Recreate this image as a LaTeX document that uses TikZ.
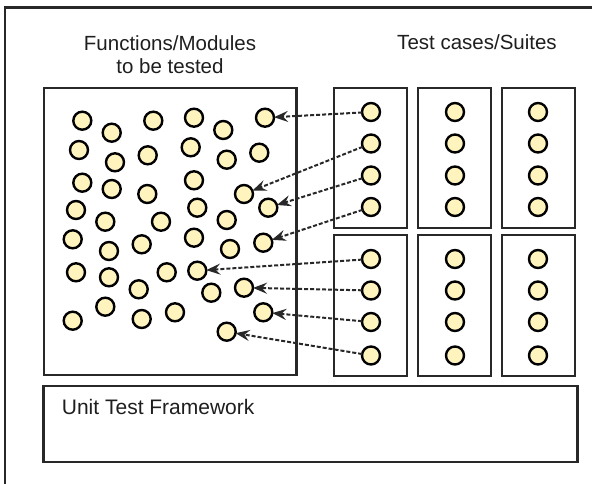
\documentclass[tikz,border=0pt]{standalone}
\usepackage{fontspec}
\setmainfont{Liberation Sans}
\usetikzlibrary{arrows.meta}
\definecolor{dotfill}{RGB}{255,244,189}
\definecolor{frame}{RGB}{40,40,40}
\definecolor{txt}{RGB}{30,30,30}
\begin{document}
\begin{tikzpicture}[x=1pt,y=-1pt,
  dot/.style={circle, draw=black, line width=2.4pt, fill=dotfill, minimum size=18pt, inner sep=0pt, outer sep=0pt},
  boxline/.style={draw=frame, line width=2.8pt, rectangle, inner sep=0pt, outer sep=0pt, anchor=north west},
  link/.style={draw=frame, line width=2pt, dash pattern=on 4pt off 2pt, -{Stealth[length=14pt,width=11pt,inset=5pt]}},
  lbl/.style={font=\fontsize{20.5}{22.7}\selectfont, text=txt, inner sep=0pt}]
\useasboundingbox (0,0) rectangle (592,484);
% outer frame (top and left edges)
\draw[frame, line width=2.2pt] (592,7.5) -- (4.6,7.5) -- (4.6,484);
% titles
\node[lbl, align=center, anchor=base] (ftitle) at (170,73.4) {Functions/Modules\\to be tested};
\node[lbl, anchor=base] (ttitle) at (477,50) {Test cases/Suites};
% function box
\node[boxline, minimum width=252.5pt, minimum height=287pt] (funcbox) at (44,88) {};
% test suite boxes
\foreach \bx [count=\col] in {334,418,502}{
  \node[boxline, minimum width=73pt, minimum height=140pt] (s\col-1) at (\bx,88) {};
  \node[boxline, minimum width=73pt, minimum height=141pt] (s\col-2) at (\bx,235) {};
}
% unit test framework
\node[boxline, minimum width=534pt, minimum height=76pt] (utf) at (43.5,386) {};
\node[lbl, font=\fontsize{21}{24}\selectfont, anchor=base west] (utflbl) at (61.7,414.3) {Unit Test Framework};
% functions/modules circles
\foreach \x/\y [count=\i] in {
 82.3/120.7, 111.7/132.7, 153.3/120.7, 194/117.7, 223.3/130, 265/117.7,
 79/150, 115/162.3, 147.7/155.3, 190.7/147.3, 226.7/159.7, 259.3/152.7,
 82.3/182.7, 111.7/189, 147.3/194, 194/180.3, 244/194, 268.3/207.7,
 76/210, 105.3/221.7, 161/221.7, 197.3/207.7, 226.7/220,
 72.7/239.3, 109/251, 141.7/244.3, 194/237.7, 230/249, 263.3/242.7,
 76/272.3, 109/277.3, 166.7/272.3, 197.3/270.7,
 138.7/289.3, 211.3/292.7, 244/287.7,
 105.3/306.7, 72.7/320.7, 141.7/319, 175/312.3, 263.3/312.3, 226.7/331.7}
  \node[dot] (c\i) at (\x,\y) {};
% test case circles
\foreach \cx [count=\col] in {371,455,538}
  \foreach \cy [count=\row] in {112,143.5,175.5,207,259,290.5,322,355.5}
    \node[dot] (t\col-\row) at (\cx,\cy) {};
% links
\draw[link] (t1-1) -- (c6);
\draw[link] (t1-2) -- (c17);
\draw[link] (t1-3) -- (c18);
\draw[link] (t1-4) -- (c29);
\draw[link] (t1-5) -- (c33);
\draw[link] (t1-6) -- (c36);
\draw[link] (t1-7) -- (c41);
\draw[link] (t1-8) -- (c42);
\end{tikzpicture}
\end{document}
